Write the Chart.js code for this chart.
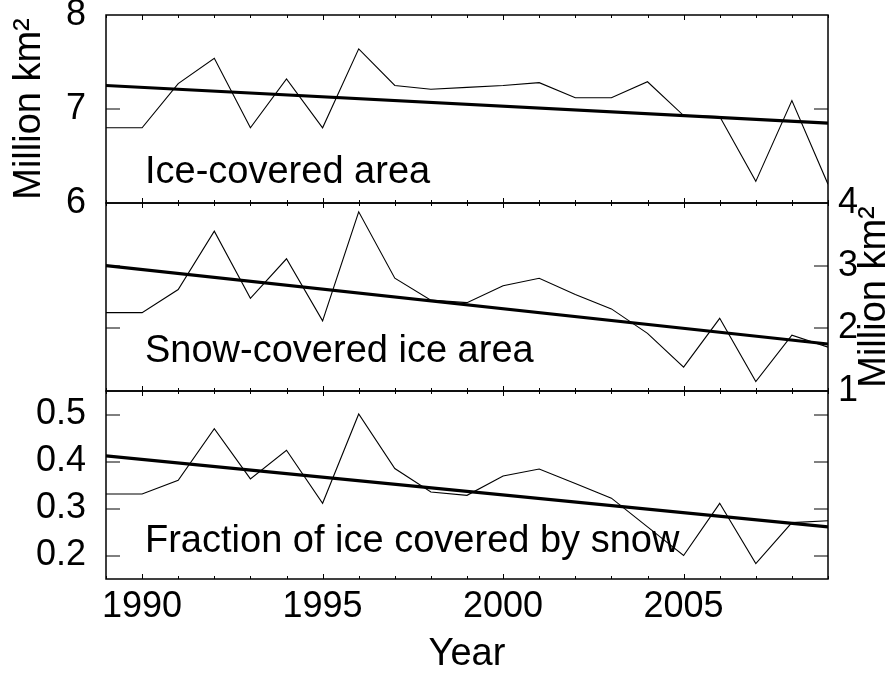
<!DOCTYPE html>
<html>
<head>
<meta charset="utf-8">
<script src="https://cdn.jsdelivr.net/npm/chart.js@4.4.1/dist/chart.umd.min.js"></script>
<style>
  html, body { margin: 0; padding: 0; background: #fff; }
  #wrap { position: relative; width: 896px; height: 677px; }
  #wrap canvas { position: absolute; left: 0; top: 0; }
</style>
</head>
<body>
<div id="wrap">
  <canvas id="c1" width="896" height="677"></canvas>
  <canvas id="c2" width="896" height="677"></canvas>
  <canvas id="c3" width="896" height="677"></canvas>
</div>
<script>
// data
const years = [1989, 1990, 1991, 1992, 1993, 1994, 1995, 1996, 1997, 1998, 1999,
               2000, 2001, 2002, 2003, 2004, 2005, 2006, 2007, 2008, 2009];
const iceArea = [6.80, 6.80, 7.27, 7.54, 6.80, 7.32, 6.80, 7.64, 7.25, 7.21, 7.23,
                 7.25, 7.28, 7.12, 7.12, 7.29, 6.93, 6.92, 6.23, 7.09, 6.20];
const snowArea = [2.25, 2.25, 2.62, 3.55, 2.48, 3.11, 2.12, 3.86, 2.80, 2.45, 2.41,
                  2.68, 2.80, 2.54, 2.31, 1.92, 1.38, 2.16, 1.15, 1.89, 1.70];
const snowFraction = [0.331, 0.331, 0.360, 0.470, 0.363, 0.424, 0.311, 0.501, 0.385, 0.335, 0.328,
                      0.369, 0.384, 0.353, 0.322, 0.261, 0.200, 0.311, 0.183, 0.270, 0.274];

// linear trend lines, start and end
const trendYears = [1989, 2009];
const iceTrend = [7.25, 6.85];
const snowTrend = [3.00, 1.75];
const fractionTrend = [0.412, 0.261];

const xTicks = [1990, 1995, 2000, 2005];
const iceTicks = [6, 7, 8];
const snowTicks = [1, 2, 3, 4];
const fractionTicks = [0.2, 0.3, 0.4, 0.5];

const panelLabels = ['Ice-covered area', 'Snow-covered ice area', 'Fraction of ice covered by snow'];
const unitLabel = 'Million km\u00B2';
const xTitle = 'Year';

const FONT = '"Liberation Sans", Arial, Helvetica, sans-serif';
const W = 896, H = 677;
const PLOT_LEFT = 106, PLOT_RIGHT = 828;

function pairs(xs, ys) {
    return xs.map((x, i) => ({ x: x, y: ys[i] }));
}

// frame + inward ticks on all four sides, plus the panel text
const framePlugin = {
    id: 'panelFrame',
    afterDraw(chart, args, opts) {
        const ctx = chart.ctx;
        const a = chart.chartArea;
        const xs = chart.scales.x;
        const ys = chart.scales.y;
        ctx.save();

        // y ticks (both sides)
        ctx.strokeStyle = '#000';
        ctx.lineWidth = 1;
        ys.ticks.forEach(t => {
            const py = Math.round(ys.getPixelForValue(t.value));
            if (py <= a.top + 1 || py >= a.bottom - 1) return;
            ctx.beginPath();
            ctx.moveTo(a.left, py); ctx.lineTo(a.left + 14, py);
            ctx.moveTo(a.right, py); ctx.lineTo(a.right - 14, py);
            ctx.stroke();
        });

        // x ticks: every year, longer every 5 years
        for (let yr = Math.ceil(xs.min); yr <= xs.max; yr++) {
            const px = Math.round(xs.getPixelForValue(yr)) + 0.5;
            const len = yr % 5 === 0 ? 5 : 3;
            ctx.beginPath();
            ctx.moveTo(px, a.top); ctx.lineTo(px, a.top + len);
            ctx.moveTo(px, a.bottom); ctx.lineTo(px, a.bottom - len);
            ctx.stroke();
        }

        // plot frame
        ctx.lineWidth = 1.5;
        ctx.strokeRect(a.left, a.top, a.right - a.left, a.bottom - a.top);

        // panel label
        ctx.fillStyle = '#000';
        ctx.font = '38px ' + FONT;
        ctx.textAlign = 'left';
        ctx.textBaseline = 'alphabetic';
        ctx.fillText(opts.label, a.left + 39, a.bottom - opts.labelLift);

        // right-hand unit title, reading bottom to top
        if (opts.rightTitle) {
            ctx.translate(875, (a.top + a.bottom) / 2);
            ctx.rotate(-Math.PI / 2);
            ctx.textAlign = 'center';
            ctx.textBaseline = 'middle';
            ctx.fillText(opts.rightTitle, 0, 0);
        }
        ctx.restore();
    }
};

function makePanel(id, cfg) {
    const ctx = document.getElementById(id).getContext('2d');
    const right = cfg.side === 'right';
    return new Chart(ctx, {
        type: 'line',
        data: {
            datasets: [
                { data: pairs(years, cfg.values), borderColor: '#000', borderWidth: 1.1, pointRadius: 0, tension: 0 },
                { data: pairs(trendYears, cfg.trend), borderColor: '#000', borderWidth: 3.2, pointRadius: 0, tension: 0 }
            ]
        },
        options: {
            responsive: false,
            animation: false,
            devicePixelRatio: 1,
            layout: {
                padding: {
                    left: right ? PLOT_LEFT : 0,
                    right: right ? 0 : W - PLOT_RIGHT,
                    top: cfg.top,
                    bottom: cfg.showX ? 0 : H - cfg.bottom
                }
            },
            plugins: {
                legend: { display: false },
                tooltip: { enabled: false },
                panelFrame: { label: cfg.label, labelLift: cfg.labelLift, rightTitle: cfg.rightTitle }
            },
            scales: {
                x: {
                    type: 'linear',
                    min: 1989,
                    max: 2009,
                    display: cfg.showX,
                    afterBuildTicks: s => { s.ticks = xTicks.map(v => ({ value: v })); },
                    afterFit: s => {
                        s.height = cfg.showX ? H - cfg.bottom : 0;
                        s.paddingLeft = 0; s.paddingRight = 0;
                    },
                    grid: { display: false, drawTicks: false },
                    border: { display: false },
                    ticks: {
                        color: '#000',
                        padding: 10,
                        maxRotation: 0,
                        font: { family: FONT, size: 36, lineHeight: 1 },
                        callback: v => String(v)
                    },
                    title: {
                        display: true,
                        text: xTitle,
                        color: '#000',
                        padding: { top: 0, bottom: 3 },
                        font: { family: FONT, size: 38, lineHeight: 1 }
                    }
                },
                y: {
                    type: 'linear',
                    position: cfg.side,
                    min: cfg.min,
                    max: cfg.max,
                    afterBuildTicks: s => { s.ticks = cfg.ticks.map(v => ({ value: v })); },
                    afterFit: s => {
                        s.width = right ? W - PLOT_RIGHT : PLOT_LEFT;
                        s.paddingTop = 0; s.paddingBottom = 0;
                    },
                    grid: { display: false, drawTicks: false },
                    border: { display: false },
                    ticks: {
                        color: '#000',
                        padding: right ? 10 : 20,
                        font: { family: FONT, size: 36, lineHeight: 1 },
                        callback: v => String(v)
                    },
                    title: {
                        display: !!cfg.leftTitle,
                        text: cfg.leftTitle || '',
                        color: '#000',
                        padding: { top: 11, bottom: 0 },
                        font: { family: FONT, size: 38, lineHeight: 1 }
                    }
                }
            }
        },
        plugins: [framePlugin]
    });
}

makePanel('c1', {
    values: iceArea, trend: iceTrend, ticks: iceTicks, min: 6, max: 8,
    side: 'left', top: 15, bottom: 203, showX: false,
    label: panelLabels[0], labelLift: 20, leftTitle: unitLabel
});
makePanel('c2', {
    values: snowArea, trend: snowTrend, ticks: snowTicks, min: 1, max: 4,
    side: 'right', top: 203, bottom: 391, showX: false,
    label: panelLabels[1], labelLift: 29, rightTitle: unitLabel
});
makePanel('c3', {
    values: snowFraction, trend: fractionTrend, ticks: fractionTicks, min: 0.15, max: 0.55,
    side: 'left', top: 391, bottom: 579, showX: true,
    label: panelLabels[2], labelLift: 27
});
</script>
</body>
</html>
